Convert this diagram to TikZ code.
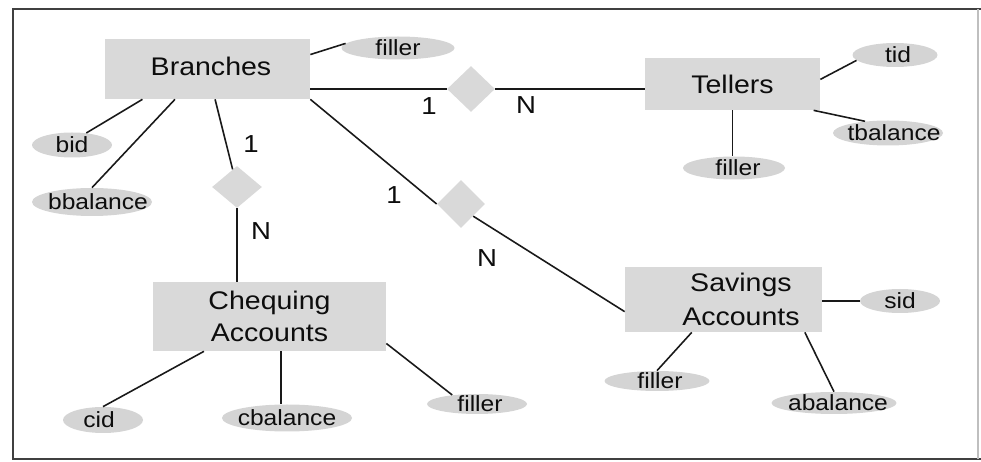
\documentclass[tikz,border=0pt]{standalone}
\usepackage{fontspec}
\setmainfont{Liberation Sans}[FakeStretch=1.12]
\usetikzlibrary{shapes.geometric,calc}
\definecolor{boxgray}{gray}{0.85}
\definecolor{ovalgray}{gray}{0.83}
\definecolor{inkgray}{gray}{0.05}
\begin{document}
\begin{tikzpicture}[x=0.02cm,y=-0.02cm,
  wh/.style 2 args={minimum width={#1*0.02cm},minimum height={#2*0.02cm}},
  entity/.style={rectangle,fill=boxgray,inner sep=0pt,text=inkgray,align=center,
    font=\fontsize{14.5}{18.5}\selectfont},
  entitytext/.style={inner sep=0pt,text=inkgray,align=center,
    font=\fontsize{14.5}{19.5}\selectfont},
  attr/.style={ellipse,fill=ovalgray,inner sep=0pt},
  attrtext/.style={inner sep=0pt,text=inkgray,font=\fontsize{12.5}{15}\selectfont},
  rel/.style={diamond,fill=boxgray,inner sep=0pt},
  card/.style={inner sep=0pt,text=inkgray,font=\fontsize{14}{16}\selectfont},
  link/.style={draw=black!90,line width=0.9pt},
  frameline/.style={draw=black!75,line width=1.7pt}]
\useasboundingbox (0,0) rectangle (981,462);

% outer frame
\draw[frameline] (981,9) -- (13,9) -- (13,459) -- (981,459);
\draw[draw=black!25,line width=0.6pt] (978,9) -- (978,459);

% entity sets
\node[entity,wh={205}{60},label={[entitytext,xshift=0.07cm,yshift=0.06cm]center:Branches}] (br) at (207.5,69) {};
\node[entity,wh={175}{52}] (tel) at (732.5,84) {Tellers};
\node[entity,wh={233}{69}] (chq) at (269.5,316.5) {Chequing\\Accounts};
\node[entity,wh={197}{65},label={[entitytext,xshift=0.35cm]center:{Savings\\Accounts}}] (sav) at (723.5,299.5) {};

% relationships
\node[rel,wh={48}{46}] (r1) at (471,89) {};
\node[rel,wh={50}{42}] (r2) at (237,187) {};
\node[rel,wh={48}{48}] (r3) at (461,204) {};

% attributes
\node[attr,wh={113}{23},label={[attrtext]center:filler}] (bfill) at (398,48) {};
\node[attr,wh={80}{25},label={[attrtext]center:bid}] (bid) at (72,145) {};
\node[attr,wh={120}{28},label={[attrtext,xshift=0.12cm]center:bbalance}] (bbal) at (92,202) {};
\node[attr,wh={85}{24},label={[attrtext,xshift=0.06cm]center:tid}] (tid) at (895,55) {};
\node[attr,wh={110}{25},label={[attrtext,xshift=0.12cm]center:tbalance}] (tbal) at (888,133) {};
\node[attr,wh={102}{23},label={[attrtext,xshift=0.08cm]center:filler}] (tfill) at (734,168) {};
\node[attr,wh={80}{26},label={[attrtext,xshift=-0.08cm]center:cid}] (cid) at (103,420) {};
\node[attr,wh={130}{27},label={[attrtext]center:cbalance}] (cbal) at (287,418) {};
\node[attr,wh={100}{20},label={[attrtext,xshift=0.06cm]center:filler}] (cfill) at (477,404) {};
\node[attr,wh={80}{24},label={[attrtext]center:sid}] (sid) at (900,301) {};
\node[attr,wh={105}{20},label={[attrtext,xshift=0.06cm]center:filler}] (sfill) at (657,381) {};
\node[attr,wh={125}{22},label={[attrtext,xshift=0.08cm]center:abalance}] (abal) at (834,403) {};

% cardinalities
\node[card] (c1) at (429,106) {1};
\node[card] (c2) at (526,105.5) {N};
\node[card] (c3) at (251,144) {1};
\node[card] (c4) at (261,231) {N};
\node[card] (c5) at (394,195) {1};
\node[card] (c6) at (487,258) {N};

% relationship connectors
\draw[link] (r1.west) -- (r1.west -| br.east);
\draw[link] (r1.east) -- (r1.east -| tel.west);
\draw[link] (br) -- (r2);
\draw[link] (r2.south) -- (r2.south |- chq.north);
\draw[link] (br.south east) -- (r3.west);
\draw[link] (r3.south east) -- (sav.187);

% attribute connectors
\draw[link] (br.8) -- (bfill.175);
\draw[link] (br.205) -- (bid.40);
\draw[link] (br.223) -- (bbal.north);
\draw[link] (tel.3) -- (tid.188);
\draw[link] (tel.342) -- (tbal.153);
\draw[link] (tel.south) -- (tel.south |- tfill.north);
\draw[link] (chq.208) -- (cid.north);
\path ($(cbal.north)+(-6,0)$) coordinate (cbtop);
\draw[link] (cbtop |- chq.south) -- (cbtop);
\draw[link] (chq.347) -- (cfill.160);
\draw[link] (sav.east |- sid.west) -- (sid.west);
\draw[link] (sav.226) -- (sfill.north);
\draw[link] (sav.338) -- (abal.north);
\end{tikzpicture}
\end{document}
